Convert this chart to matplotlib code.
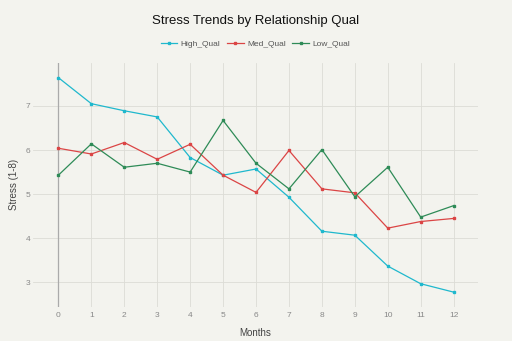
import numpy as np
import matplotlib.pyplot as plt
from matplotlib.ticker import MultipleLocator

# ------------------------ Dados ------------------------
months = list(range(13))
high_qual = [7.64, 7.05, 6.89, 6.75, 5.83, 5.43, 5.57, 4.93, 4.16, 4.07, 3.37, 2.97, 2.78]
med_qual = [6.04, 5.91, 6.17, 5.79, 6.13, 5.43, 5.04, 5.99, 5.12, 5.03, 4.23, 4.38, 4.45]
low_qual = [5.43, 6.14, 5.61, 5.70, 5.50, 6.67, 5.70, 5.12, 6.01, 4.94, 5.61, 4.48, 4.74]

series = [('High_Qual', high_qual, '#1FB8CD'),
          ('Med_Qual', med_qual, '#DB4545'),
          ('Low_Qual', low_qual, '#2E8B57')]

bg = '#F3F3EE'
plt.rcParams['font.family'] = ['Liberation Sans', 'DejaVu Sans']

# ------------------------ Figura ------------------------
fig = plt.figure(figsize=(5.12, 3.41), dpi=100, facecolor=bg)
ax = fig.add_axes([0.0645, 0.1006, 0.8685, 0.7144])
ax.set_facecolor(bg)

for name, vals, col in series:
    ax.plot(months, vals, color=col, linewidth=0.9, marker='s', markersize=2.0,
            label=name)

ax.set_xlim(-0.77, 12.73)
ax.set_ylim(2.45, 7.97)
ax.xaxis.set_major_locator(MultipleLocator(1))
ax.yaxis.set_major_locator(MultipleLocator(1))

ax.grid(which='major', color='#DCDCD6', linewidth=0.6)
ax.set_axisbelow(True)
ax.axvline(0, color='#AAAAAA', linewidth=0.9, zorder=1)
for s in ax.spines.values():
    s.set_visible(False)
ax.tick_params(axis='both', length=0, labelsize=6, labelcolor='#888888')
ax.tick_params(axis='x', pad=4)
ax.tick_params(axis='y', pad=2)

ax.set_xlabel('Months', fontsize=7, color='#444444', va='center')
ax.set_ylabel('Stress (1-8)', fontsize=7, color='#444444', va='center')
ax.xaxis.set_label_coords(0.5, -0.108)
ax.yaxis.set_label_coords(-0.043, 0.5)

fig.text(0.5, 0.938, 'Stress Trends by Relationship Qual', ha='center', va='center',
         fontsize=9.5, color='#111111')
ax.legend(loc='center', bbox_to_anchor=(0.5, 1.078), ncol=3, frameon=False,
          fontsize=6, labelcolor='#555555', handlelength=2.0, handletextpad=0.4,
          columnspacing=0.8)

plt.savefig('out.png', dpi=100, facecolor=bg)
